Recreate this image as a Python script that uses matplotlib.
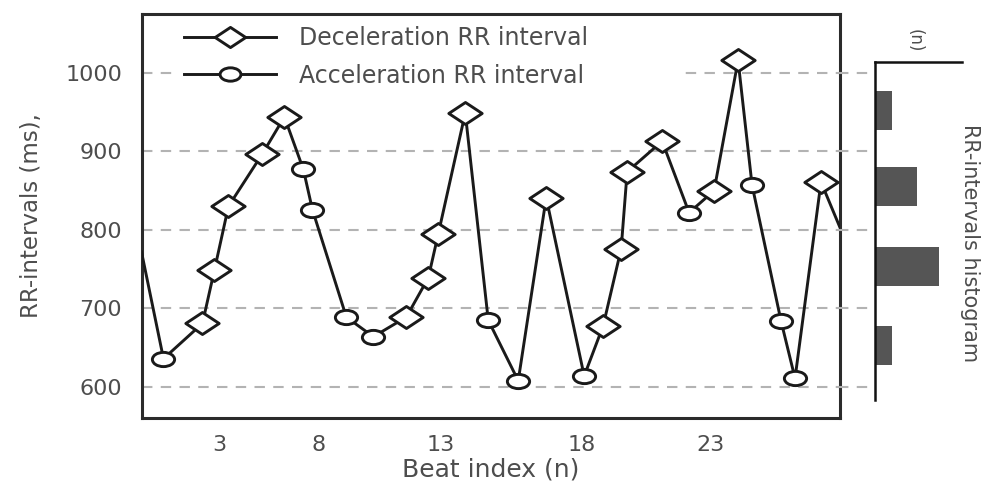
import numpy as np
import matplotlib
matplotlib.use("Agg")
import matplotlib.pyplot as plt
from matplotlib.path import Path
from matplotlib.transforms import Affine2D
from matplotlib.lines import Line2D
from matplotlib.legend_handler import HandlerLine2D

# beat positions along the strip (arbitrary units), RR values in ms
beat_pos = [0, 22, 61, 73, 87, 121, 143, 162, 171, 205, 232, 265, 287, 297, 324,
            347, 377, 405, 443, 462, 480, 486, 521, 548, 573, 597, 611, 640, 654,
            680, 699]
rr_ms = [772, 636, 681, 749, 830, 897, 944, 877, 826, 689, 664, 689, 739, 795, 949,
         685, 608, 841, 614, 678, 776, 874, 913, 822, 850, 1016, 857, 684, 611,
         861, 803]
# d = deceleration, a = acceleration, '-' = line only (cut by the frame)
kind = ['-', 'a', 'd', 'd', 'd', 'd', 'd', 'a', 'a', 'a', 'a', 'd', 'd', 'd', 'd',
        'a', 'a', 'd', 'a', 'd', 'd', 'd', 'd', 'a', 'd', 'd', 'a', 'a', 'a',
        'd', '-']

tick_pos = [78, 177, 299, 441, 569]
tick_lab = ['3', '8', '13', '18', '23']
grid_vals = [600, 700, 800, 900, 1000]

hist_centers = [653, 753, 855, 952]
hist_counts = [1.0, 3.7, 2.4, 1.0]

txt = '#4d4d4d'
diamond = Path([(-1, 0), (0, 0.66), (1, 0), (0, -0.66), (-1, 0)],
               [Path.MOVETO, Path.LINETO, Path.LINETO, Path.LINETO, Path.CLOSEPOLY])
ellipse = Path.unit_circle().transformed(Affine2D().scale(1, 0.64))

fig = plt.figure(figsize=(9.92, 4.91), dpi=100)
ax = fig.add_axes([141.5 / 992, 73 / 491, 698.5 / 992, 404 / 491])

ax.plot(beat_pos, rr_ms, color='#1a1a1a', lw=2.1, zorder=3)
x = np.array(beat_pos)
y = np.array(rr_ms)
k = np.array(kind)
ax.plot(x[k == 'd'], y[k == 'd'], ls='none', marker=diamond, ms=24,
        mfc='white', mec='#1a1a1a', mew=2.1, zorder=4)
ax.plot(x[k == 'a'], y[k == 'a'], ls='none', marker=ellipse, ms=16,
        mfc='white', mec='#1a1a1a', mew=2.1, zorder=4)

ax.set_xlim(0, 699)
ax.set_ylim(560.5, 1075)
ax.set_xticks(tick_pos)
ax.set_xticklabels(tick_lab)
ax.set_yticks(grid_vals)
ax.tick_params(axis='both', length=0, labelsize=16, labelcolor=txt)
ax.tick_params(axis='y', pad=14)
ax.tick_params(axis='x', pad=12)
ax.grid(axis='y', color='#b3b3b3', ls=(0, (5, 4)), lw=1.5, zorder=1)
for s in ax.spines.values():
    s.set_linewidth(2.2)
    s.set_color('#2b2b2b')
ax.set_xlabel('Beat index (n)', fontsize=18, color=txt, labelpad=2)
ax.set_ylabel('RR-intervals (ms),', fontsize=16.5, color=txt, labelpad=16)


class EndMarker(HandlerLine2D):
    def get_xdata(self, legend, xdescent, ydescent, width, height, fontsize):
        xd = np.array([-xdescent, -xdescent + width])
        return xd, np.array([-xdescent + width])


h1 = Line2D([], [], color='#1a1a1a', lw=2.1, marker=diamond, ms=22,
            mfc='white', mec='#1a1a1a', mew=2.1)
h2 = Line2D([], [], color='#1a1a1a', lw=2.1, marker=ellipse, ms=15,
            mfc='white', mec='#1a1a1a', mew=2.1)
leg = ax.legend([h1, h2], ['Deceleration RR interval', 'Acceleration RR interval'],
                loc='upper left', bbox_to_anchor=(0.05, 0.0, 0.728, 0.988),
                mode='expand', borderaxespad=0, borderpad=0.3, fontsize=17,
                handlelength=3.9, handletextpad=1.0, labelspacing=0.58,
                frameon=True, fancybox=False, framealpha=1,
                handler_map={h1: EndMarker(), h2: EndMarker()})
leg.get_frame().set_edgecolor('none')
for t in leg.get_texts():
    t.set_color(txt)
leg.set_zorder(5)

# histogram panel
axh = fig.add_axes([875 / 992, 91 / 491, 87 / 992, 338 / 491])
axh.barh(hist_centers, hist_counts, height=50, color='#555555', zorder=2)
axh.set_xlim(0, 5)
axh.set_ylim(583.4, 1014)
axh.spines['right'].set_visible(False)
axh.spines['bottom'].set_visible(False)
for s in ('left', 'top'):
    axh.spines[s].set_linewidth(1.8)
    axh.spines[s].set_color('#111111')
axh.set_xticks([])
axh.set_yticks([])
axh.patch.set_alpha(0)
axh.hlines(grid_vals, -2.1, 0, colors='#b3b3b3', linestyles=(0, (5, 4)), lw=1.5,
           clip_on=False)
fig.text(915 / 992, 1 - 41 / 491, '(n)', rotation=-90, fontsize=12, color=txt,
         ha='center', va='center')
fig.text(970 / 992, 1 - 243 / 491, 'RR-intervals histogram', rotation=-90,
         fontsize=15, color=txt, ha='center', va='center')

fig.savefig('out.png', dpi=100)
